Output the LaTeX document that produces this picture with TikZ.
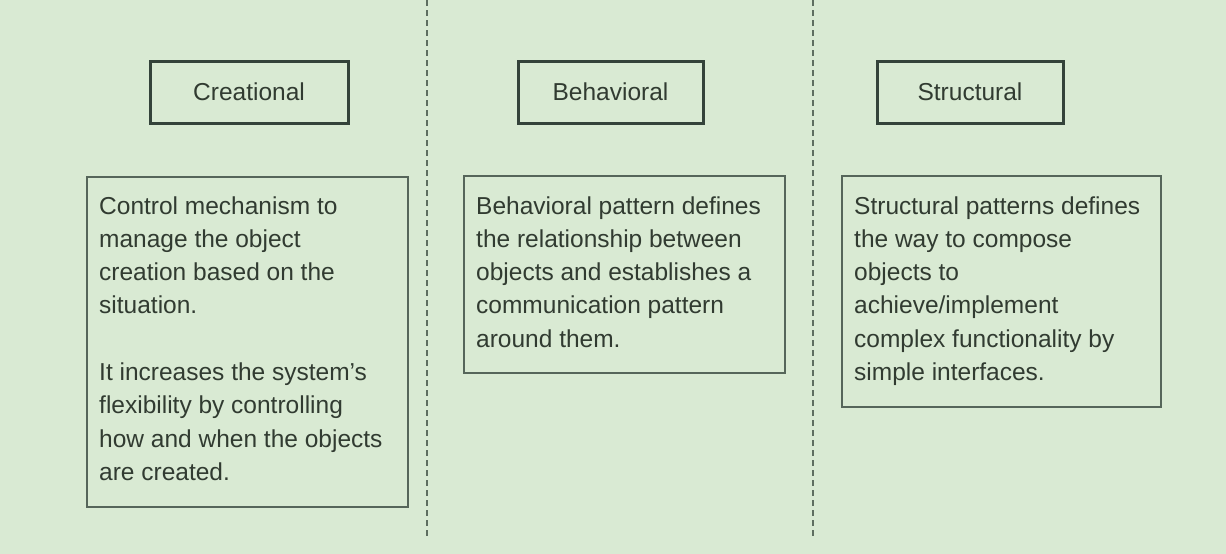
\documentclass[tikz,border=0pt]{standalone}
\usepackage{fontspec}
\setmainfont{Liberation Sans}
\definecolor{bg}{HTML}{D9EAD3}
\definecolor{ink}{HTML}{313B31}
\definecolor{titleline}{HTML}{34433A}
\definecolor{boxline}{HTML}{56665A}
\definecolor{sepline}{HTML}{5E6E60}
\tikzset{
  titlebox/.style={draw=titleline, line width=3pt, rectangle, inner sep=0pt,
    text=ink, font=\fontsize{24.5}{33.3}\selectfont},
  descbox/.style={draw=boxline, line width=2pt, rectangle, inner sep=0pt},
  desctext/.style={anchor=base west, inner sep=0pt, text=ink,
    font=\fontsize{24.5}{33.3}\selectfont},
  sepdash/.style={draw=sepline, line width=2pt, dash pattern=on 6pt off 4pt}
}
\begin{document}
\begin{tikzpicture}[x=1pt,y=-1pt]
\fill[bg] (0,0) rectangle (1226,554);
\useasboundingbox (0,0) rectangle (1226,554);

% separators
\coordinate (s1top) at (427,0);
\coordinate (s1bot) at (427,538);
\coordinate (s2top) at (813,0);
\coordinate (s2bot) at (813,538);
\draw[sepdash] (s1top) -- (s1bot);
\draw[sepdash] (s2top) -- (s2bot);

% title boxes
\node[titlebox, minimum width=198pt, minimum height=62pt] (tc) at (249,92) {Creational};
\node[titlebox, minimum width=185pt, minimum height=62pt] (tb) at (610.5,92) {Behavioral};
\node[titlebox, minimum width=186pt, minimum height=62pt] (ts) at (970,92) {Structural};

% description boxes
\node[descbox, minimum width=321pt, minimum height=330pt] (dc) at (247.5,342) {};
\node[descbox, minimum width=321pt, minimum height=197pt] (db) at (624.5,274.5) {};
\node[descbox, minimum width=319pt, minimum height=231pt] (ds) at (1001.5,291.5) {};

\node[desctext] (dct) at ([xshift=13pt,yshift=-38pt]dc.north west)
  {\parbox[t]{310pt}{\raggedright Control mechanism to\\ manage the object\\ creation based on the\\ situation.\\[33.3pt]
  It increases the system's\\ flexibility by controlling\\ how and when the objects\\ are created.}};
\node[desctext] (dbt) at ([xshift=13pt,yshift=-39pt]db.north west)
  {\parbox[t]{310pt}{\raggedright Behavioral pattern defines\\ the relationship between\\ objects and establishes a\\ communication pattern\\ around them.}};
\node[desctext] (dst) at ([xshift=13pt,yshift=-39pt]ds.north west)
  {\parbox[t]{310pt}{\raggedright Structural patterns defines\\ the way to compose\\ objects to\\ achieve/implement\\ complex functionality by\\ simple interfaces.}};
\end{tikzpicture}
\end{document}
